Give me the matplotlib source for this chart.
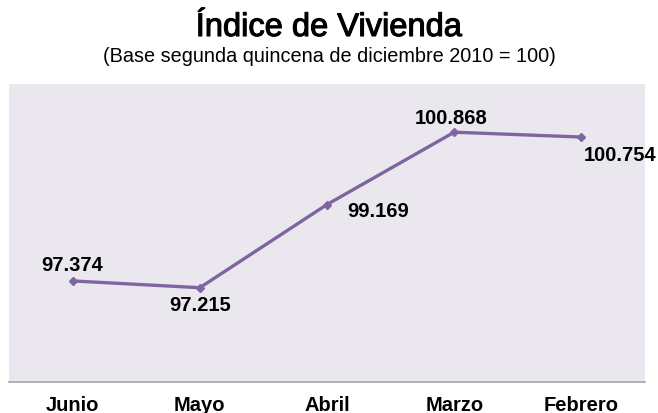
import matplotlib.pyplot as plt
import matplotlib.patheffects as pe

# datos del indice
meses = ['Junio', 'Mayo', 'Abril', 'Marzo', 'Febrero']
indice = [97.374, 97.215, 99.169, 100.868, 100.754]

# desplazamiento de cada etiqueta (pixeles) y alineacion
label_offsets = [(0, 15), (0, -18), (20, -7), (-3, 14), (2, -18)]
label_align = ['center', 'center', 'left', 'center', 'left']

plt.rcParams['font.family'] = ['Liberation Sans', 'DejaVu Sans']

fig = plt.figure(figsize=(6.58, 4.13), dpi=100)
ax = fig.add_axes([9 / 658, 31 / 413, 636 / 658, 298 / 413])
ax.set_facecolor('#EAE8EE')

x = list(range(len(meses)))
ax.plot(x, indice, color='#8064A2', linewidth=2.4, marker='D', markersize=4.5)

for i, v in enumerate(indice):
    ax.annotate('{:.3f}'.format(v), (x[i], v), textcoords='offset pixels',
                xytext=label_offsets[i], ha=label_align[i], va='center',
                fontsize=14.5, fontweight='bold', color='black')

ax.set_xlim(-0.5, len(meses) - 0.5)
ax.set_ylim(95, 102)
ax.set_xticks(x)
ax.set_xticklabels(meses, fontsize=14.5, fontweight='bold')
ax.tick_params(axis='x', length=0, pad=10)
ax.set_yticks([])
for side in ['top', 'left', 'right']:
    ax.spines[side].set_visible(False)
ax.spines['bottom'].set_color('#A6A6A6')
ax.spines['bottom'].set_linewidth(1.2)

# titulo algo mas grueso que el regular
fig.text(0.5, 1 - 36 / 413, 'Índice de Vivienda', ha='center', va='baseline',
         fontsize=23.5,
         path_effects=[pe.withStroke(linewidth=0.8, foreground='black')])
fig.text(0.5, 1 - 57 / 413, '(Base segunda quincena de diciembre 2010 = 100)',
         ha='center', va='center', fontsize=14.3)

fig.savefig('out.png', dpi=100)
